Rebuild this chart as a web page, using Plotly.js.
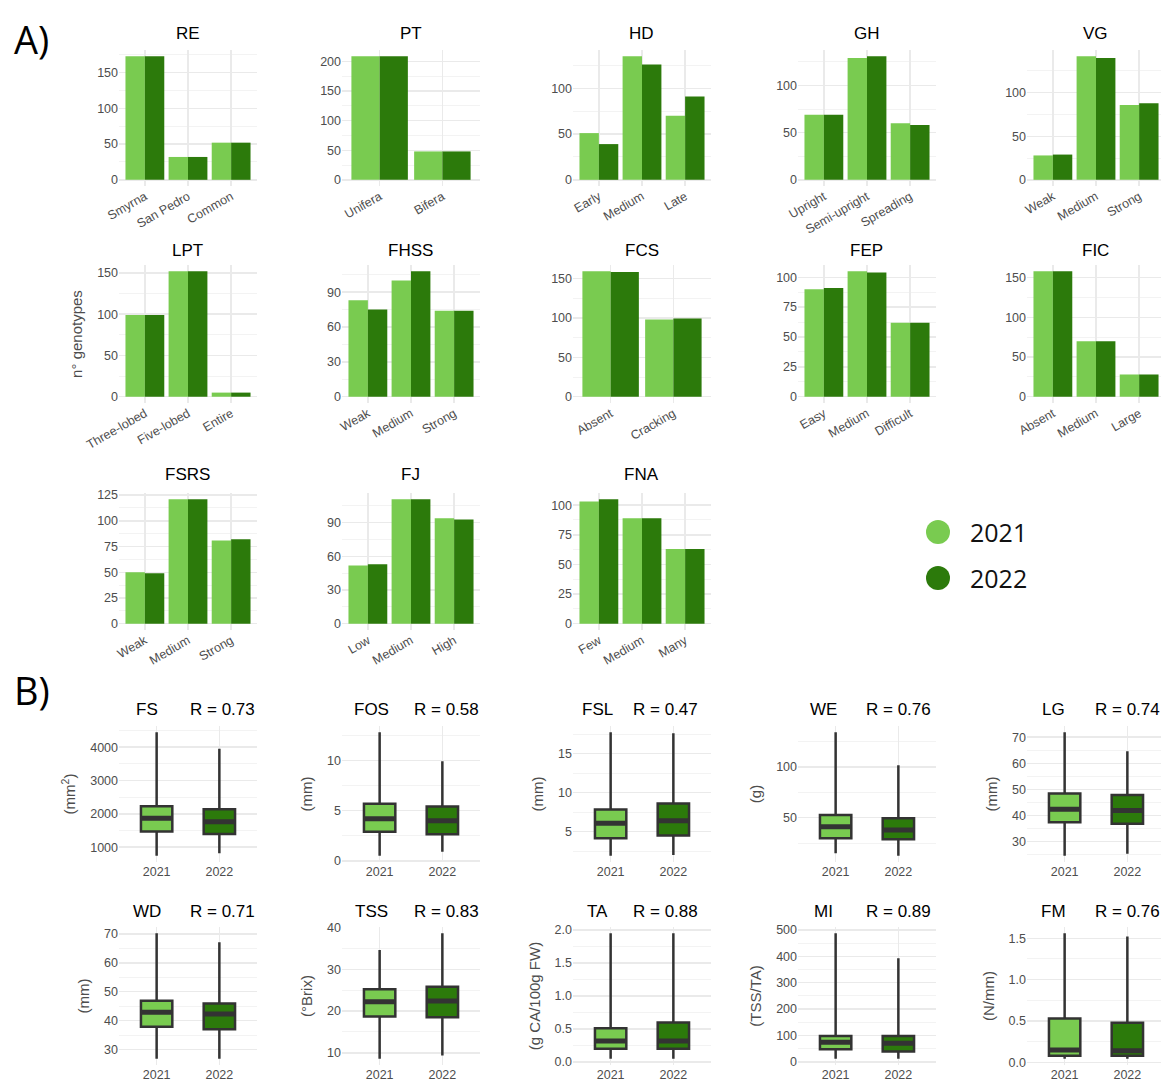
<!DOCTYPE html>
<html><head><meta charset="utf-8">
<script src="https://cdn.plot.ly/plotly-3.0.1.min.js"></script>
<style>body{margin:0;background:#fff}</style>
</head><body><div id="chart" style="width:1161px;height:1081px"></div>
<script>
// ================= DATA =================
const years = ['2021', '2022'];

// Panel A: number of genotypes per class, 2021 and 2022
const RE_cat = ['Smyrna', 'San Pedro', 'Common'];
const RE_2021 = [173, 32, 52];
const RE_2022 = [173, 32, 52];

const PT_cat = ['Unifera', 'Bifera'];
const PT_2021 = [209, 48];
const PT_2022 = [209, 48];

const HD_cat = ['Early', 'Medium', 'Late'];
const HD_2021 = [51, 135, 70];
const HD_2022 = [39, 126, 91];

const GH_cat = ['Upright', 'Semi-upright', 'Spreading'];
const GH_2021 = [69, 129, 60];
const GH_2022 = [69, 131, 58];

const VG_cat = ['Weak', 'Medium', 'Strong'];
const VG_2021 = [28, 142, 86];
const VG_2022 = [29, 140, 88];

const LPT_cat = ['Three-lobed', 'Five-lobed', 'Entire'];
const LPT_2021 = [99, 152, 5];
const LPT_2022 = [99, 152, 5];

const FHSS_cat = ['Weak', 'Medium', 'Strong'];
const FHSS_2021 = [83, 100, 74];
const FHSS_2022 = [75, 108, 74];

const FCS_cat = ['Absent', 'Cracking'];
const FCS_2021 = [159, 98];
const FCS_2022 = [158, 99];

const FEP_cat = ['Easy', 'Medium', 'Difficult'];
const FEP_2021 = [90, 105, 62];
const FEP_2022 = [91, 104, 62];

const FIC_cat = ['Absent', 'Medium', 'Large'];
const FIC_2021 = [158, 70, 28];
const FIC_2022 = [158, 70, 28];

const FSRS_cat = ['Weak', 'Medium', 'Strong'];
const FSRS_2021 = [50, 121, 81];
const FSRS_2022 = [49, 121, 82];

const FJ_cat = ['Low', 'Medium', 'High'];
const FJ_2021 = [52, 111, 94];
const FJ_2022 = [53, 111, 93];

const FNA_cat = ['Few', 'Medium', 'Many'];
const FNA_2021 = [103, 89, 63];
const FNA_2022 = [105, 89, 63];

// Panel B: box statistics [lower whisker, Q1, median, Q3, upper whisker]
const FS_2021 = [740, 1466, 1866, 2230, 4450];
const FS_2022 = [820, 1397, 1765, 2134, 3955];
const FOS_2021 = [0.5, 2.9, 4.2, 5.67, 12.8];
const FOS_2022 = [0.9, 2.65, 4.0, 5.4, 9.9];
const FSL_2021 = [1.9, 4.16, 6.07, 7.83, 17.75];
const FSL_2022 = [2.0, 4.5, 6.4, 8.6, 17.6];
const WE_2021 = [15, 29.8, 41.2, 52.6, 134.3];
const WE_2022 = [12.5, 28.8, 38, 49.4, 101.6];
const LG_2021 = [24.5, 37.4, 42.4, 48.4, 71.9];
const LG_2022 = [25.3, 36.8, 41.9, 47.8, 64.6];
const WD_2021 = [26.9, 37.9, 42.9, 46.9, 70.2];
const WD_2022 = [26.9, 37.1, 42.3, 46.0, 67.1];
const TSS_2021 = [8.6, 18.7, 22.2, 25.2, 34.6];
const TSS_2022 = [9.4, 18.5, 22.4, 25.8, 38.6];
const TA_2021 = [0.05, 0.2, 0.32, 0.51, 1.95];
const TA_2022 = [0.05, 0.2, 0.32, 0.6, 1.95];
const MI_2021 = [12, 48, 74, 98, 487];
const MI_2022 = [12, 39, 71, 98, 392];
const FM_2021 = [0.045, 0.08, 0.15, 0.53, 1.56];
const FM_2022 = [0.045, 0.08, 0.14, 0.48, 1.52];

// R values between years
const R_labels = ['R = 0.73', 'R = 0.58', 'R = 0.47', 'R = 0.76', 'R = 0.74',
                  'R = 0.71', 'R = 0.83', 'R = 0.88', 'R = 0.89', 'R = 0.76'];

// ================= LAYOUT / STYLE =================
const W = 1161, H = 1081;
const C_LIGHT = '#79CB50', C_DARK = '#2C7A0B';
const GRID = '#EAEAEA', GRID_MINOR = '#F2F2F2';
const TXT = '#4D4D4D';
const FONT = 'Liberation Sans, Arial, sans-serif';

// column pixel extents (plot areas)
const COLS = [[119, 257], [342, 480], [573, 711], [798, 936], [1027, 1165]];
const A_ROWS = [[50, 186], [265, 403], [493, 630]];
const A_TITLE_Y = [33, 250, 474];
const B_ROWS = [[726, 862], [927, 1065]];
const B_TITLE_Y = [709, 911];
const B_NAME_X = [147, 371, 597, 823, 1053];
const B_R_X = [222, 446, 665, 898, 1127];

const barPanels = [
  {name: 'RE', cat: RE_cat, a: RE_2021, b: RE_2022, dtick: 50, row: 0, col: 0},
  {name: 'PT', cat: PT_cat, a: PT_2021, b: PT_2022, dtick: 50, row: 0, col: 1},
  {name: 'HD', cat: HD_cat, a: HD_2021, b: HD_2022, dtick: 50, row: 0, col: 2},
  {name: 'GH', cat: GH_cat, a: GH_2021, b: GH_2022, dtick: 50, row: 0, col: 3},
  {name: 'VG', cat: VG_cat, a: VG_2021, b: VG_2022, dtick: 50, row: 0, col: 4},
  {name: 'LPT', cat: LPT_cat, a: LPT_2021, b: LPT_2022, dtick: 50, row: 1, col: 0, ytitle: 'n° genotypes'},
  {name: 'FHSS', cat: FHSS_cat, a: FHSS_2021, b: FHSS_2022, dtick: 30, row: 1, col: 1},
  {name: 'FCS', cat: FCS_cat, a: FCS_2021, b: FCS_2022, dtick: 50, row: 1, col: 2},
  {name: 'FEP', cat: FEP_cat, a: FEP_2021, b: FEP_2022, dtick: 25, row: 1, col: 3},
  {name: 'FIC', cat: FIC_cat, a: FIC_2021, b: FIC_2022, dtick: 50, row: 1, col: 4},
  {name: 'FSRS', cat: FSRS_cat, a: FSRS_2021, b: FSRS_2022, dtick: 25, row: 2, col: 0},
  {name: 'FJ', cat: FJ_cat, a: FJ_2021, b: FJ_2022, dtick: 30, row: 2, col: 1},
  {name: 'FNA', cat: FNA_cat, a: FNA_2021, b: FNA_2022, dtick: 25, row: 2, col: 2}
];

const boxPanels = [
  {name: 'FS', a: FS_2021, b: FS_2022, dtick: 1000, unit: '(mm<sup>2</sup>)', row: 0, col: 0},
  {name: 'FOS', a: FOS_2021, b: FOS_2022, dtick: 5, unit: '(mm)', row: 0, col: 1},
  {name: 'FSL', a: FSL_2021, b: FSL_2022, dtick: 5, unit: '(mm)', row: 0, col: 2},
  {name: 'WE', a: WE_2021, b: WE_2022, dtick: 50, unit: '(g)', row: 0, col: 3},
  {name: 'LG', a: LG_2021, b: LG_2022, dtick: 10, unit: '(mm)', row: 0, col: 4},
  {name: 'WD', a: WD_2021, b: WD_2022, dtick: 10, unit: '(mm)', row: 1, col: 0},
  {name: 'TSS', a: TSS_2021, b: TSS_2022, dtick: 10, unit: '(°Brix)', row: 1, col: 1},
  {name: 'TA', a: TA_2021, b: TA_2022, dtick: 0.5, unit: '(g CA/100g FW)', row: 1, col: 2, fmt: '.1f'},
  {name: 'MI', a: MI_2021, b: MI_2022, dtick: 100, unit: '(TSS/TA)', row: 1, col: 3},
  {name: 'FM', a: FM_2021, b: FM_2022, dtick: 0.5, unit: '(N/mm)', row: 1, col: 4, fmt: '.1f'}
];

const traces = [];
const layout = {
  width: W, height: H,
  margin: {l: 0, r: 0, t: 0, b: 0},
  paper_bgcolor: '#ffffff', plot_bgcolor: '#ffffff',
  showlegend: false,
  barmode: 'group', bargap: 0.1, bargroupgap: 0,
  boxmode: 'overlay',
  font: {family: FONT, color: TXT},
  annotations: [], shapes: []
};

function xdom(col) {
  const [l, r] = COLS[col];
  return [l / W, Math.min(r, W) / W];
}
// range in category units, clipped when the column exceeds the page
function xrange(col, n) {
  const [l, r] = COLS[col];
  const full = n - 1 + 1.2;
  const rr = Math.min(r, W);
  return [-0.6, -0.6 + full * (rr - l) / (r - l)];
}
function ydom(top, bot) { return [1 - bot / H, 1 - top / H]; }

function axisBase() {
  return {
    showgrid: true, gridcolor: GRID, gridwidth: 1.4,
    zeroline: false, showline: false, ticks: '',
    tickfont: {family: FONT, size: 12.5, color: TXT}
  };
}

let k = 0;
function addTitle(text, x, y, size, anchor) {
  layout.annotations.push({
    text: text, x: x / W, y: 1 - y / H, xref: 'paper', yref: 'paper',
    xanchor: anchor || 'center', yanchor: 'middle', showarrow: false,
    font: {family: FONT, size: size, color: '#000000'}
  });
}

// ---- Bar panels ----
barPanels.forEach(p => {
  k += 1;
  const xa = k === 1 ? 'x' : 'x' + k;
  const ya = k === 1 ? 'y' : 'y' + k;
  const mx = Math.max(...p.a, ...p.b);
  [[p.a, C_LIGHT, years[0]], [p.b, C_DARK, years[1]]].forEach(([vals, col, yr]) => {
    traces.push({
      type: 'bar', x: p.cat, y: vals, name: yr, xaxis: xa, yaxis: ya,
      marker: {color: col, line: {width: 0}}, hoverinfo: 'x+y+name'
    });
  });
  const rowPx = A_ROWS[p.row];
  layout['xaxis' + (k === 1 ? '' : k)] = Object.assign(axisBase(), {
    domain: xdom(p.col), anchor: ya, type: 'category',
    categoryorder: 'array', categoryarray: p.cat,
    range: xrange(p.col, p.cat.length), tickangle: -30,
    tickfont: {family: FONT, size: 12.5, color: TXT}
  });
  const yax = Object.assign(axisBase(), {
    domain: ydom(rowPx[0], rowPx[1]), anchor: xa,
    range: [-0.05 * mx, 1.05 * mx], tick0: 0, dtick: p.dtick,
    minor: {dtick: p.dtick / 2, showgrid: true, gridcolor: GRID_MINOR, gridwidth: 0.9}
  });
  if (p.ytitle) {
    yax.title = {text: p.ytitle, font: {family: FONT, size: 15, color: TXT}, standoff: 10};
  }
  layout['yaxis' + (k === 1 ? '' : k)] = yax;
  addTitle(p.name, (COLS[p.col][0] + COLS[p.col][1]) / 2 - 0.5, A_TITLE_Y[p.row], 17);
});

// ---- Box panels ----
boxPanels.forEach((p, i) => {
  k += 1;
  const xa = 'x' + k, ya = 'y' + k;
  const lo = Math.min(p.a[0], p.b[0]), hi = Math.max(p.a[4], p.b[4]);
  const pad = 0.05 * (hi - lo);
  [[p.a, C_LIGHT, years[0]], [p.b, C_DARK, years[1]]].forEach(([s, col, yr]) => {
    traces.push({
      type: 'box', x: [yr], lowerfence: [s[0]], q1: [s[1]], median: [s[2]],
      q3: [s[3]], upperfence: [s[4]], name: yr, xaxis: xa, yaxis: ya,
      width: 0.5, whiskerwidth: 0, fillcolor: col,
      line: {color: '#333333', width: 2.5}, hoverinfo: 'y'
    });
  });
  // thicker median bars (ggplot-style)
  traces.push({
    type: 'box', x: years, lowerfence: [p.a[2], p.b[2]], q1: [p.a[2], p.b[2]],
    median: [p.a[2], p.b[2]], q3: [p.a[2], p.b[2]], upperfence: [p.a[2], p.b[2]],
    xaxis: xa, yaxis: ya, width: 0.5, whiskerwidth: 0,
    fillcolor: 'rgba(0,0,0,0)', line: {color: '#333333', width: 5}, hoverinfo: 'skip'
  });
  const rowPx = B_ROWS[p.row];
  layout['xaxis' + k] = Object.assign(axisBase(), {
    domain: xdom(p.col), anchor: ya, type: 'category',
    categoryorder: 'array', categoryarray: years,
    range: xrange(p.col, 2)
  });
  const yax = Object.assign(axisBase(), {
    domain: ydom(rowPx[0], rowPx[1]), anchor: xa,
    range: [lo - pad, hi + pad], tick0: 0, dtick: p.dtick,
    minor: {dtick: p.dtick / 2, showgrid: true, gridcolor: GRID_MINOR, gridwidth: 0.9},
    title: {text: p.unit, font: {family: FONT, size: 15, color: TXT}, standoff: 10}
  });
  if (p.fmt) yax.tickformat = p.fmt;
  layout['yaxis' + k] = yax;
  addTitle(p.name, B_NAME_X[p.col], B_TITLE_Y[p.row], 17);
  addTitle(R_labels[i], B_R_X[p.col], B_TITLE_Y[p.row], 17);
});

// ---- Section labels ----
layout.annotations.push({text: 'A)', x: 12 / W, y: 1 - 39 / H, xref: 'paper', yref: 'paper',
  xanchor: 'left', yanchor: 'middle', showarrow: false,
  font: {family: 'Open Sans, sans-serif', size: 38, color: '#000000'}});
layout.annotations.push({text: 'B)', x: 12 / W, y: 1 - 690 / H, xref: 'paper', yref: 'paper',
  xanchor: 'left', yanchor: 'middle', showarrow: false,
  font: {family: 'Open Sans, sans-serif', size: 38, color: '#000000'}});

// ---- Legend (drawn manually to match large dots) ----
[[C_LIGHT, years[0], 532], [C_DARK, years[1], 578]].forEach(([col, yr, cy]) => {
  layout.shapes.push({type: 'circle', xref: 'paper', yref: 'paper',
    x0: (938 - 12) / W, x1: (938 + 12) / W, y0: 1 - (cy + 12) / H, y1: 1 - (cy - 12) / H,
    fillcolor: col, line: {width: 0}});
  layout.annotations.push({text: yr, x: 968 / W, y: 1 - cy / H, xref: 'paper', yref: 'paper',
    xanchor: 'left', yanchor: 'middle', showarrow: false,
    font: {family: 'Open Sans, sans-serif', size: 25, color: '#111111'}});
});

Plotly.newPlot('chart', traces, layout, {staticPlot: true, displayModeBar: false});
</script>
</body></html>
